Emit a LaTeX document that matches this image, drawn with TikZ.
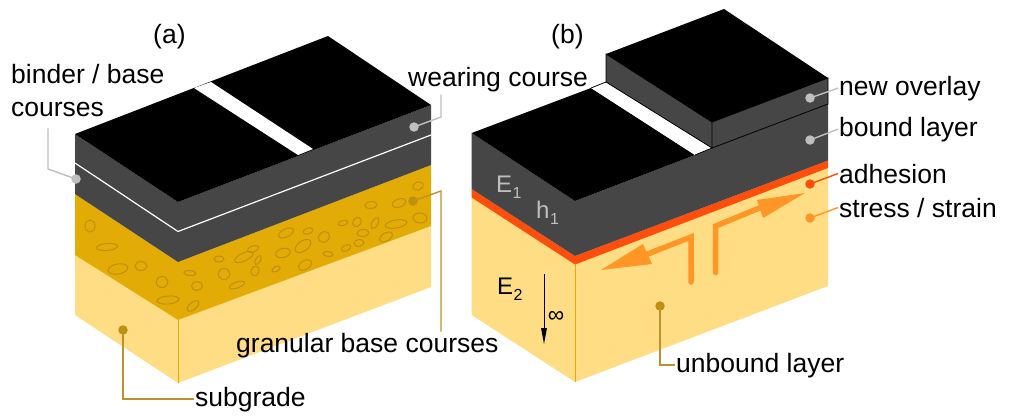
\documentclass[tikz,border=0pt]{standalone}
\usepackage{fontspec}
\setmainfont{Liberation Sans}
\definecolor{cdark}{HTML}{464646}
\definecolor{cgold}{HTML}{E2AB05}
\definecolor{csand}{HTML}{FFDD85}
\definecolor{cred}{HTML}{FF4E0B}
\definecolor{corange}{HTML}{FF9626}
\definecolor{cstone}{HTML}{BF900F}
\definecolor{clead}{HTML}{BC932A}
\definecolor{cgray}{HTML}{BFBFBF}
\tikzset{
  lab/.style={inner sep=1pt,anchor=base west,font=\fontsize{26.5}{30}\selectfont},
  sym/.style={inner sep=0pt,anchor=base west,font=\fontsize{24}{26}\selectfont},
  stone/.style={draw=cstone,line width=1pt},
  dot/.style={circle,inner sep=0pt,minimum size=9.5pt},
  graylead/.style={draw=cgray,line width=1.4pt},
  goldlead/.style={draw=clead,line width=1.4pt},
  strain/.style={draw=corange,line width=5.5pt,line cap=round,line join=miter},
}
\newcommand{\stn}[5]{\draw[stone] (#1,#2) circle[x radius=#3, y radius=#4, rotate=#5];}
\newcommand{\subs}[1]{\kern0.5pt\raisebox{-6.5pt}{\fontsize{16}{16}\selectfont #1}}
\begin{document}
\begin{tikzpicture}[x=1pt,y=-1pt]
\useasboundingbox (0,0) rectangle (1024,415);
\fill[white] (0,0) rectangle (1024,415);
% ---------- block (a)
\fill[csand] (75,255) -- (178,320) -- (431,226) -- (431,287) -- (178,383) -- (75,315) -- cycle;
\fill[cgold] (75,194) -- (178,262) -- (431,165) -- (431,226) -- (178,320) -- (75,255) -- cycle;
\fill[cdark] (75,134) -- (178,202) -- (431,105) -- (431,165) -- (178,262) -- (75,194) -- cycle;
\fill[black] (75,134) -- (328,36) -- (431,105) -- (178,202) -- cycle;
\fill[white] (194,88) -- (211,82) -- (313,149) -- (298,155) -- cycle;
\draw[white,line width=1.2pt] (75,163) -- (178,231.5) -- (431,135);
\draw[cgold,line width=1pt] (178,320) -- (178,383);
\stn{90}{226}{5}{6}{0}\stn{107}{247}{10.5}{3.5}{5}\stn{118}{269}{10}{5}{10}\stn{141}{266}{6}{4.5}{0}
\stn{162}{282}{6}{5.5}{0}\stn{168}{300}{11}{4}{5}\stn{193}{306}{7}{3.5}{40}\stn{197}{286}{5.5}{4.5}{0}
\stn{190}{273}{6}{2.5}{-5}\stn{219}{259}{5}{3}{0}\stn{224}{274}{6}{5.5}{0}\stn{237}{285}{8}{3}{20}
\stn{244}{257}{10}{4}{25}\stn{253}{249}{6}{3}{20}\stn{258}{260}{5}{2.5}{60}\stn{255}{271}{5}{4}{70}
\stn{276}{269}{4.5}{2.5}{25}\stn{283}{253}{7.5}{4.5}{15}\stn{286}{233}{8}{4}{25}\stn{308}{231}{5}{3}{20}
\stn{303}{246}{9}{5}{35}\stn{305}{265}{7}{4.5}{30}\stn{324}{237}{6}{5}{40}\stn{328}{254}{5}{2.5}{-10}
\stn{346}{248}{5}{3}{25}\stn{343}{223}{5}{2.5}{15}\stn{357}{222}{5}{4}{60}\stn{363}{233}{6}{3.5}{5}
\stn{359}{243}{5}{3.5}{10}\stn{375}{223}{6}{3}{60}\stn{386}{237}{7}{4}{30}\stn{396}{224}{11}{4}{10}
\stn{420}{218}{7}{5}{-5}\stn{371}{205}{6}{3.5}{5}\stn{399}{203}{7}{4}{20}\stn{418}{186}{5.5}{4}{20}
% ---------- block (b)
\fill[csand] (471.7,197) -- (575,264) -- (828,168) -- (828,286) -- (575,382) -- (471.7,315) -- cycle;
\fill[cred] (471.7,189) -- (575,256) -- (828,160.5) -- (828,168) -- (575,264.5) -- (471.7,197.5) -- cycle;
\fill[cdark] (471.7,133) -- (575,201) -- (695,155) -- (712,148) -- (828,104) -- (828,160.5) -- (575,256) -- (471.7,189) -- cycle;
\fill[black] (471.7,133) -- (591,88) -- (695,155) -- (575,201) -- cycle;
\fill[white] (591,88) -- (606,82) -- (712,148) -- (695,155) -- cycle;
\filldraw[fill=cdark,draw=black,line width=0.8pt] (606,54) -- (606,82) -- (712,148) -- (828,104) -- (828,78) -- (712,122) -- cycle;
\draw[black,line width=0.8pt] (712,122) -- (712,148) (591,88) -- (606,82) (695,155) -- (712,148);
\fill[black] (606,54) -- (724,9) -- (828,78) -- (712,122) -- cycle;
\draw[cgold,line width=1pt] (575,264) -- (575,382);
% stress arrows
\draw[strain] (691,282) -- (691,237) -- (645,255);
\fill[corange] (601,270) -- (643,244) -- (652,264) -- cycle;
\draw[strain] (715.7,272.5) -- (715.7,226) -- (762,207);
\fill[corange] (805,193) -- (757,200) -- (763,218) -- cycle;
% depth arrow
\draw[black,line width=1pt] (544,274) -- (544,330);
\fill[black] (544,344) -- (541,328) -- (547,328) -- cycle;
% ---------- labels
\node[lab] (capa) at (152,43) {(a)};
\node[lab] (capb) at (550,43) {(b)};
\node[lab] (binder) at (10,83) {binder / base};
\node[lab] (courses) at (10,116) {courses};
\node[lab] (wear) at (407,86) {wearing course};
\node[lab] (granular) at (235,352) {granular base courses};
\node[lab] (subgrade) at (194,406) {subgrade};
\node[lab] (overlay) at (838,95) {new overlay};
\node[lab] (bound) at (838,136) {bound layer};
\node[lab] (adhesion) at (838,183) {adhesion};
\node[lab] (stress) at (838,217) {stress / strain};
\node[lab] (unbound) at (675,372) {unbound layer};
\node[sym,text=cgray] (eone) at (496,192) {E\subs{1}};
\node[sym,text=cgray] (hone) at (536,218) {h\subs{1}};
\node[sym] (etwo) at (497,294) {E\subs{2}};
\node[font=\fontsize{23}{23}\selectfont,inner sep=0pt] (inf) at (556,317) {∞};
% ---------- dots
\node[dot,fill=cgray] (dwear) at (414,127) {};
\node[dot,fill=cgray] (dbinder) at (76,179) {};
\node[dot,fill=cstone] (dgran) at (413,201) {};
\node[dot,fill=cstone] (dsub) at (123,330) {};
\node[dot,fill=cstone] (dunb) at (660,306) {};
\node[dot,fill=cgray] (dover) at (810,98) {};
\node[dot,fill=cgray] (dbound) at (810,140) {};
\node[dot,fill=cred] (dadh) at (810,184) {};
\node[dot,fill=corange] (dstr) at (810,218) {};
\coordinate (kwear) at (441,117);
\coordinate (kbinder) at (48,169);
\coordinate (kgran) at (441,191);
% ---------- leaders
\draw[graylead] (dwear.center) -- (kwear) -- ([yshift=-2pt]kwear |- wear.south);
\draw[graylead] (dbinder.center) -- (kbinder) -- ([yshift=-11pt]kbinder |- courses.south);
\draw[goldlead] (dgran.center) -- (kgran) -- (kgran |- granular.north);
\draw[goldlead] (dsub.center) |- (subgrade.west);
\draw[goldlead] (dunb.center) |- (unbound.west);
\draw[graylead] (dover.center) -- (overlay.west);
\draw[graylead] (dbound.center) -- (bound.west);
\draw[draw=cred,line width=1.4pt] (dadh.center) -- (adhesion.west);
\draw[draw=corange,line width=1.4pt] (dstr.center) -- (stress.west);
\end{tikzpicture}
\end{document}
